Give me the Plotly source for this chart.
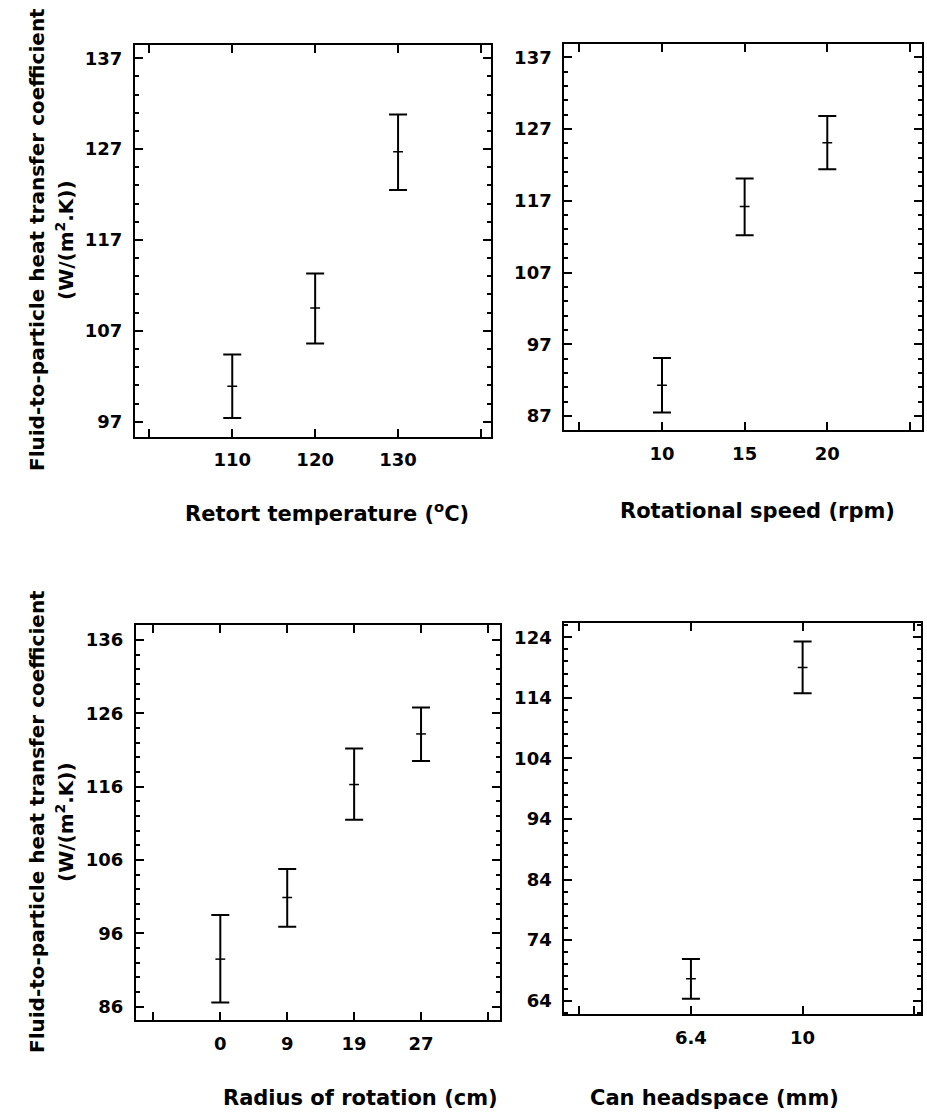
import plotly.graph_objects as go

W, H = 927, 1112

# ---------------- data ----------------
temp_x = [110, 120, 130]
temp_mean = [100.9, 109.5, 126.7]
temp_upper = [104.4, 113.3, 130.8]
temp_lower = [97.4, 105.6, 122.5]

speed_x = [10, 15, 20]
speed_mean = [91.3, 116.2, 125.1]
speed_upper = [95.1, 120.1, 128.8]
speed_lower = [87.5, 112.2, 121.4]

radius_cats = ["0", "9", "19", "27"]
radius_mean = [92.5, 100.9, 116.3, 123.2]
radius_upper = [98.5, 104.8, 121.2, 126.8]
radius_lower = [86.6, 96.9, 111.5, 119.5]

head_cats = ["6.4", "10"]
head_mean = [67.6, 119.0]
head_upper = [70.9, 123.3]
head_lower = [64.3, 114.75]

y_ticks_1 = [97, 107, 117, 127, 137]
y_ticks_2 = [87, 97, 107, 117, 127, 137]
y_ticks_3 = [86, 96, 106, 116, 126, 136]
y_ticks_4 = [64, 74, 84, 94, 104, 114, 124]

x_end_ticks_1 = [100, 140]
x_end_ticks_2 = [5, 25]

x_titles = ["Retort temperature (<sup>o</sup>C)", "Rotational speed (rpm)",
            "Radius of rotation (cm)", "Can headspace (mm)"]
y_title_1 = "Fluid-to-particle heat transfer coefficient"
y_title_2 = "(W/(m<sup>2</sup>.K))"

FONT = "DejaVu Sans"

fig = go.Figure()


def add_err(x, mean, upper, lower, xa, ya):
    fig.add_trace(go.Scatter(
        x=x, y=mean, mode="markers", xaxis=xa, yaxis=ya,
        marker=dict(symbol="line-ew", size=7, color="black",
                    line=dict(color="black", width=1.5)),
        error_y=dict(type="data", symmetric=False,
                     array=[u - m for u, m in zip(upper, mean)],
                     arrayminus=[m - l for m, l in zip(mean, lower)],
                     color="black", thickness=2, width=9),
        showlegend=False, hoverinfo="skip"))


radius_pos = list(range(1, len(radius_cats) + 1))
head_pos = list(range(1, len(head_cats) + 1))

add_err(temp_x, temp_mean, temp_upper, temp_lower, "x", "y")
add_err(speed_x, speed_mean, speed_upper, speed_lower, "x2", "y2")
add_err(radius_pos, radius_mean, radius_upper, radius_lower, "x3", "y3")
add_err(head_pos, head_mean, head_upper, head_lower, "x4", "y4")


def px_x(a, b):
    return [a / W, b / W]


def px_y(top, bottom):
    return [1 - bottom / H, 1 - top / H]


tickfont = dict(family=FONT, size=18, color="black", weight="bold")


def xax(domain, rng, anchor, tickvals, ticktext, endticks):
    return dict(domain=domain, range=rng, anchor=anchor,
                tickmode="array", tickvals=tickvals, ticktext=ticktext,
                showline=True, linecolor="black", linewidth=2, mirror="ticks",
                ticks="inside", ticklen=8, tickwidth=1.5, tickcolor="black",
                showgrid=False, zeroline=False, tickfont=tickfont,
                ticklabelstandoff=6,
                minor=dict(tickmode="array", tickvals=endticks, ticks="inside",
                           ticklen=8, tickwidth=1.5, tickcolor="black", showgrid=False))


def yax(domain, rng, anchor, tickvals):
    return dict(domain=domain, range=rng, anchor=anchor,
                tickmode="array", tickvals=tickvals,
                showline=True, linecolor="black", linewidth=2, mirror="ticks",
                ticks="inside", ticklen=8, tickwidth=1.5, tickcolor="black",
                showgrid=False, zeroline=False, tickfont=tickfont,
                ticklabelstandoff=7,
                minor=dict(tick0=tickvals[0], dtick=2, ticks="inside", ticklen=4,
                           tickwidth=1.5, tickcolor="black", showgrid=False))


fig.update_layout(
    xaxis=xax(px_x(135, 490.5), [98.27, 141.15], "y", temp_x,
              [str(v) for v in temp_x], x_end_ticks_1),
    yaxis=yax(px_y(45, 436.5), [95.37, 138.46], "x", y_ticks_1),
    xaxis2=xax(px_x(564.3, 921.5), [4.09, 25.7], "y2", speed_x,
               [str(v) for v in speed_x], x_end_ticks_2),
    yaxis2=yax(px_y(44, 430), [85.05, 138.85], "x2", y_ticks_2),
    xaxis3=xax(px_x(136, 500), [-0.26, 5.18], "y3", radius_pos, radius_cats,
               [0, len(radius_cats) + 1]),
    yaxis3=yax(px_y(625, 1020), [84.2, 138.05], "x3", y_ticks_3),
    xaxis4=xax(px_x(564.3, 921), [-0.134, 3.06], "y4", head_pos, head_cats,
               [0, len(head_cats) + 1]),
    yaxis4=yax(px_y(623.3, 1014), [61.8, 126.3], "x4", y_ticks_4),
)

title_font = dict(family=FONT, size=21, color="black", weight="bold")
ytitle_font = dict(family=FONT, size=20, color="black", weight="bold")

ann = []
for txt, cx, cy in zip(x_titles, [327, 757, 360, 714], [512, 511, 1098, 1098]):
    ann.append(dict(text=txt, x=cx / W, y=1 - cy / H, xref="paper", yref="paper",
                    xanchor="center", yanchor="middle", showarrow=False, font=title_font))
for cy in [240, 822]:
    ann.append(dict(text=y_title_1, x=37 / W, y=1 - cy / H, xref="paper", yref="paper",
                    xanchor="center", yanchor="middle", showarrow=False, textangle=-90,
                    font=ytitle_font))
    ann.append(dict(text=y_title_2, x=65 / W, y=1 - cy / H, xref="paper", yref="paper",
                    xanchor="center", yanchor="middle", showarrow=False, textangle=-90,
                    font=ytitle_font))

fig.update_layout(
    width=W, height=H, margin=dict(l=0, r=0, t=0, b=0),
    paper_bgcolor="white", plot_bgcolor="white",
    annotations=ann, showlegend=False,
)

fig.write_html("out.html")
